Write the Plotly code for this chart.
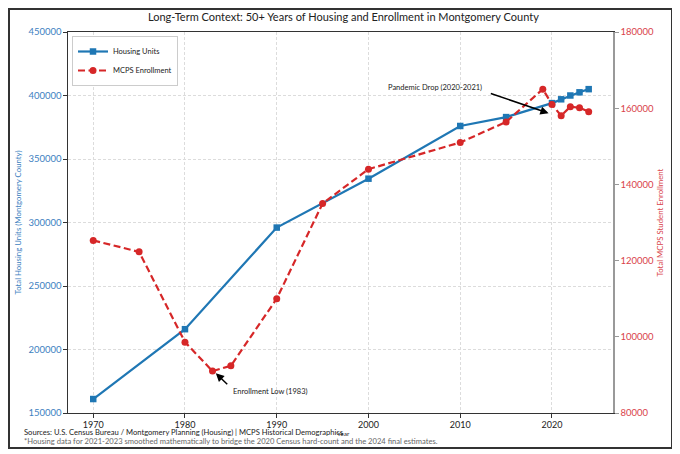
import plotly.graph_objects as go

# ---- data ----
housing_years = [1970, 1980, 1990, 2000, 2010, 2015, 2020, 2021, 2022, 2023, 2024]
housing_units = [161000, 216000, 296000, 334500, 376000, 383000, 394000, 397000, 400000, 402500, 405000]

enroll_years = [1970, 1975, 1980, 1983, 1985, 1990, 1995, 2000, 2010, 2015, 2019, 2020, 2021, 2022, 2023, 2024]
enrollment = [125300, 122300, 98600, 91000, 92400, 110000, 135000, 144000, 151000, 156400, 165000, 161000, 158000, 160400, 160100, 159100]

x_ticks = [1970, 1980, 1990, 2000, 2010, 2020]
left_ticks = [150000, 200000, 250000, 300000, 350000, 400000, 450000]
right_ticks = [80000, 100000, 120000, 140000, 160000, 180000]

BLUE = "#1f77b4"
RED = "#d62728"
FONT = "Lato"

# page is shown with an 8px body offset; lay out in page pixels
OFF = 8
W, H = 680 - OFF, 454 - OFF
PL, PR, PT, PB = 68, 613, 32, 413          # plot box in page pixels
ML, MR, MT, MB = PL - OFF, 680 - PR, PT - OFF, 454 - PB
PW, PH = PR - PL, PB - PT


def px(xp):
    return (xp - PL) / PW


def py(yp):
    return (PB - yp) / PH


fig = go.Figure()
fig.add_trace(go.Scatter(
    x=housing_years, y=housing_units, name="Housing Units", mode="lines+markers",
    line=dict(color=BLUE, width=2.2), marker=dict(symbol="square", size=6.5, color=BLUE),
    yaxis="y",
))
fig.add_trace(go.Scatter(
    x=enroll_years, y=enrollment, name="MCPS Enrollment", mode="lines+markers",
    line=dict(color=RED, width=2.2, dash="7px,3.5px"), marker=dict(symbol="circle", size=7, color=RED),
    yaxis="y2",
))

annotations = [
    # arrows
    dict(x=2019.63, y=158670, ax=2013.17, ay=164000, xref="x", yref="y2", axref="x", ayref="y2",
         text="", showarrow=True, arrowhead=2, arrowsize=1.1, arrowwidth=1.5, arrowcolor="black", standoff=0),
    dict(x=1983.36, y=90420, ax=1984.77, ay=87170, xref="x", yref="y2", axref="x", ayref="y2",
         text="", showarrow=True, arrowhead=2, arrowsize=1.1, arrowwidth=1.5, arrowcolor="black", standoff=0),
    # labels
    dict(x=2007.3, y=165500, xref="x", yref="y2", text="Pandemic Drop (2020-2021)", showarrow=False,
         font=dict(family=FONT, size=7.5, color="#222")),
    dict(x=1989.35, y=85775, xref="x", yref="y2", text="Enrollment Low (1983)", showarrow=False,
         font=dict(family=FONT, size=7.5, color="#222")),
    # x axis title
    dict(x=px(343), y=py(433), xref="paper", yref="paper", xanchor="center", yanchor="middle",
         text="Year", showarrow=False, font=dict(family=FONT, size=6.5, color="#222")),
    # sources
    dict(x=px(22), y=py(432), xref="paper", yref="paper", xanchor="left", yanchor="middle",
         text="Sources: U.S. Census Bureau / Montgomery Planning (Housing) | MCPS Historical Demographics",
         showarrow=False, font=dict(family=FONT, size=7.6, color="#222")),
    dict(x=px(22), y=py(440.5), xref="paper", yref="paper", xanchor="left", yanchor="middle",
         text="*Housing data for 2021-2023 smoothed mathematically to bridge the 2020 Census hard-count and the 2024 final estimates.",
         showarrow=False, font=dict(family=FONT, size=7.6, color="#666")),
]

fig.update_layout(
    width=W, height=H,
    margin=dict(l=ML, r=MR, t=MT, b=MB),
    paper_bgcolor="white", plot_bgcolor="white",
    font=dict(family=FONT, size=9, color="#222"),
    title=dict(text="Long-Term Context: 50+ Years of Housing and Enrollment in Montgomery County",
               x=px(340), xanchor="center", y=1 - (17 - OFF) / H, yanchor="middle", yref="container",
               font=dict(family=FONT, size=11, color="#222")),
    xaxis=dict(
        range=[1967.25, 2026.65], tickvals=x_ticks, tickfont=dict(size=9, color="#222"),
        showgrid=True, gridcolor="#dcdcdc", gridwidth=0.8, griddash="3px,2px",
        showline=True, linecolor="#333", linewidth=1.2, mirror=True,
        ticks="outside", ticklen=3.5, tickcolor="#333", zeroline=False, automargin=False,
    ),
    yaxis=dict(
        range=[150000, 450000], tickvals=left_ticks, tickformat="d",
        tickfont=dict(size=9.5, color="#3d7fbf"),
        showgrid=True, gridcolor="#dcdcdc", gridwidth=0.8, griddash="3px,2px",
        showline=True, linecolor="#333", linewidth=1.2,
        ticks="outside", ticklen=3.5, tickcolor="#333", zeroline=False, automargin=False,
        title=dict(text="Total Housing Units (Montgomery County)", font=dict(size=7.8, color="#3d7fbf"), standoff=5),
    ),
    yaxis2=dict(
        range=[80000, 180000], tickvals=right_ticks, tickformat="d", overlaying="y", side="right",
        tickfont=dict(size=9.5, color="#d9434a"), showgrid=False,
        showline=True, linecolor="#999", linewidth=2,
        ticks="outside", ticklen=3.5, tickcolor="#999", zeroline=False, automargin=False,
        title=dict(text="Total MCPS Student Enrollment", font=dict(size=7.8, color="#d9434a"), standoff=5),
    ),
    legend=dict(x=px(72), y=py(36), xanchor="left", yanchor="top",
                bgcolor="white", bordercolor="#cccccc", borderwidth=1,
                font=dict(family=FONT, size=7.5, color="#222"), tracegroupgap=0),
    annotations=annotations,
    shapes=[dict(type="rect", xref="paper", yref="paper",
                 x0=px(OFF + 1), x1=px(672), y0=py(448), y1=py(OFF + 1),
                 line=dict(color="#333", width=2), fillcolor="rgba(0,0,0,0)", layer="above")],
)

fig.write_html("out.html")
